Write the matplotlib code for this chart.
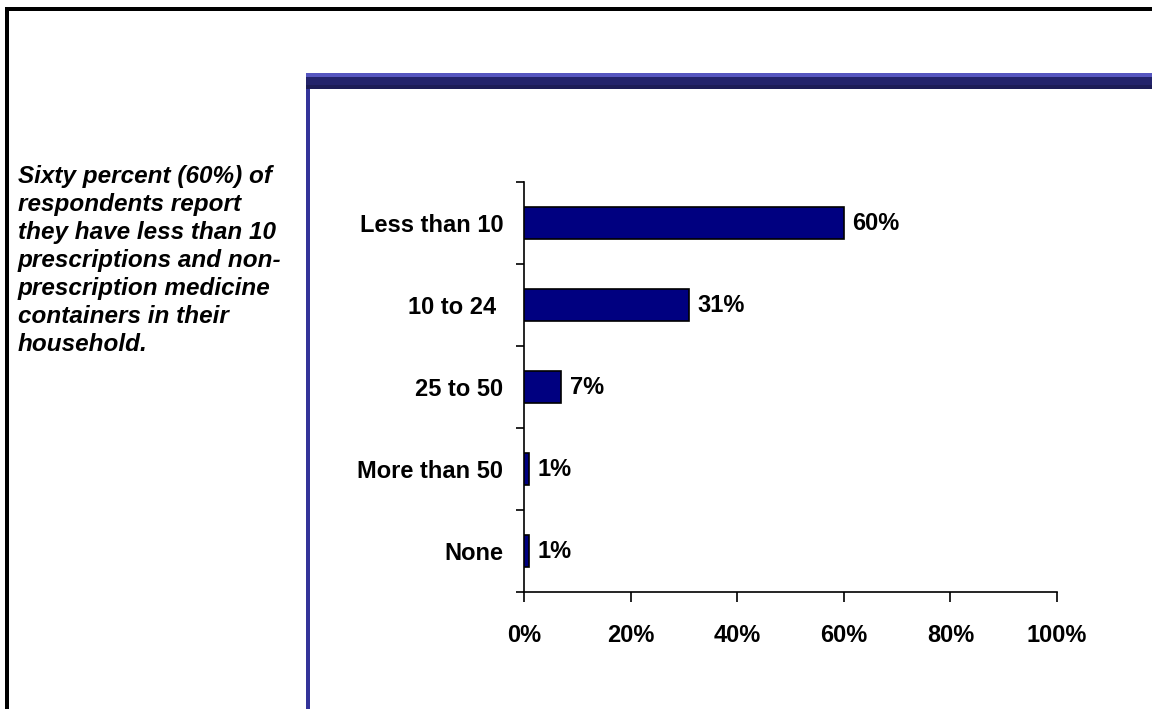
import matplotlib
matplotlib.use("Agg")
import matplotlib.pyplot as plt
from matplotlib.patches import Rectangle
from matplotlib.lines import Line2D

# data, top to bottom as shown
categories = ["Less than 10", "10 to 24 ", "25 to 50", "More than 50", "None"]
values = [60, 31, 7, 1, 1]
xticks = [0, 20, 40, 60, 80, 100]
xtick_labels = ["0%", "20%", "40%", "60%", "80%", "100%"]

note_lines = [
    "Sixty percent (60%) of",
    "respondents report",
    "they have less than 10",
    "prescriptions and non-",
    "prescription medicine",
    "containers in their",
    "household.",
]

W, H = 1152, 709
plt.rcParams["font.family"] = ["Liberation Sans", "DejaVu Sans"]

fig = plt.figure(figsize=(W / 100, H / 100), dpi=100, facecolor="white")


def box(x, y, w, h, color):
    # rectangle in pixel coords measured from top-left
    fig.add_artist(Rectangle((x / W, 1 - (y + h) / H), w / W, h / H,
                             transform=fig.transFigure, facecolor=color,
                             edgecolor="none", zorder=0))


# outer black frame (runs off the right and bottom edges)
box(5, 7, W, 4, "black")
box(5, 7, 4, H, "black")

# slide panel: banded header bar and left rule
box(306, 73, W, 4, "#5656c0")
box(306, 77, W, 8, "#23236b")
box(306, 85, W, 4, "#1c1c56")
box(306, 89, 4, H, "#333399")

# note text on the left
for i, line in enumerate(note_lines):
    fig.text(18 / W, 1 - (183 + i * 28) / H, line, fontsize=17.5,
             fontweight="bold", fontstyle="italic", va="baseline", ha="left")

# chart
ax = fig.add_axes([524 / W, 1 - 592 / H, 533 / W, 410 / H])
ypos = list(range(len(categories)))[::-1]
ax.barh(ypos, values, height=0.4, color="#000080", edgecolor="black",
        linewidth=1.2, zorder=3)

for y, v in zip(ypos, values):
    ax.annotate(f"{v}%", (v, y), xytext=(6, 0), textcoords="offset points",
                va="center", ha="left", fontsize=17, fontweight="bold")

ax.set_xlim(0, 100)
ax.set_ylim(-0.5, len(categories) - 0.5)
ax.set_xticks(xticks)
ax.set_xticklabels(xtick_labels, fontsize=17, fontweight="bold")
ax.tick_params(axis="x", direction="out", length=7, width=1.2, pad=16)

# y ticks sit on category boundaries, labels at the centres
ax.set_yticks([p - 0.5 for p in range(len(categories) + 1)])
ax.set_yticklabels([])
ax.set_yticks(ypos, minor=True)
ax.set_yticklabels(categories, minor=True, fontsize=17, fontweight="bold")
ax.tick_params(axis="y", which="major", direction="out", length=6, width=1.2)
ax.tick_params(axis="y", which="minor", length=0, pad=15)

for side in ["top", "right"]:
    ax.spines[side].set_visible(False)
for side in ["left", "bottom"]:
    ax.spines[side].set_linewidth(1.2)
ax.set_facecolor("none")

fig.savefig("out.png", dpi=100, facecolor="white")
